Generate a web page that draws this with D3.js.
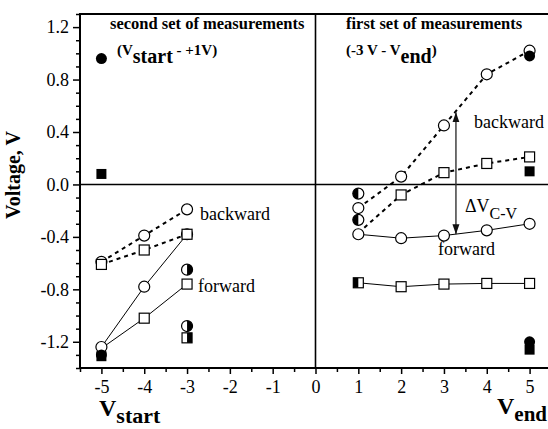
<!DOCTYPE html>
<html>
<head>
<meta charset="utf-8">
<script src="https://cdn.jsdelivr.net/npm/d3@7"></script>
<style>
  body { margin: 0; background: #fff; }
  svg, svg text { font-family: "Liberation Serif", "Times New Roman", serif; }
</style>
</head>
<body>
<div id="chart"></div>
<script>
// Vend series (first set of measurements)
const vEnd = [1, 2, 3, 4, 5];
const endBackCircle = [-0.18, 0.06, 0.45, 0.84, 1.02];
const endBackSquare = [-0.37, -0.08, 0.09, 0.16, 0.21];
const endFwdCircle = [-0.38, -0.41, -0.39, -0.35, -0.30];
const endFwdSquare = [-0.75, -0.78, -0.76, -0.755, -0.755];

// Vstart series (second set of measurements)
const vStart = [-5, -4, -3];
const startBackCircle = [-0.59, -0.39, -0.19];
const startBackSquare = [-0.61, -0.50, -0.38];
const startFwdCircle = [-1.24, -0.78, -0.38];
const startFwdSquare = [-1.25, -1.02, -0.76];

// single points
const filledCircles = [[-5, 0.96], [-5, -1.30], [5, 0.98], [5, -1.20]];
const filledSquares = [[-5, 0.08], [-5, -1.31], [5, 0.10], [5, -1.26]];
const halfCircles = [[-3, -0.65, "right"], [-3, -1.08, "right"], [1, -0.07, "left"], [1, -0.27, "left"]];
const halfSquares = [[-3, -1.17, "right"], [1, -0.75, "left"]];

// delta arrow
const arrowX = 3.28;
const arrowFrom = -0.38;
const arrowTo = 0.55;

const xTicks = [-5, -4, -3, -2, -1, 0, 1, 2, 3, 4, 5];
const yTicks = [-1.2, -0.8, -0.4, 0.0, 0.4, 0.8, 1.2];

const width = 548, height = 429;
const serif = "Liberation Serif, Times New Roman, serif";

const x = d3.scaleLinear().domain([-5.5, 5.5]).range([80, 551]);
const y = d3.scaleLinear().domain([-1.4, 1.3]).range([368, 14]);

const svg = d3.select("#chart").append("svg")
    .attr("width", width)
    .attr("height", height)
    .attr("font-family", serif);

// --- axes ---
const yMinor = d3.range(-14, 14).map(d => d / 10).filter(d => Math.abs(d * 10) % 4 !== 0);
const xMinor = d3.range(-5.5, 5.6, 1);

svg.append("g")
    .attr("transform", `translate(${x(-5.5)},0)`)
    .call(d3.axisLeft(y).tickValues(yMinor).tickSize(4).tickFormat(""))
    .call(g => g.select(".domain").remove())
    .selectAll("line").attr("stroke-width", 1.5);

svg.append("g")
    .attr("transform", `translate(${x(-5.5)},0)`)
    .call(d3.axisLeft(y).tickValues(yTicks).tickSize(7).tickPadding(4).tickFormat(d => d.toFixed(1)))
    .attr("font-family", serif)
    .attr("font-size", 18)
    .call(g => g.select(".domain").remove())
    .call(g => g.selectAll("line").attr("stroke-width", 1.5));

svg.append("g")
    .attr("transform", `translate(0,${y(-1.4)})`)
    .call(d3.axisBottom(x).tickValues(xMinor).tickSize(4).tickFormat(""))
    .call(g => g.select(".domain").remove())
    .selectAll("line").attr("stroke-width", 1.5);

svg.append("g")
    .attr("transform", `translate(0,${y(-1.4)})`)
    .call(d3.axisBottom(x).tickValues(xTicks).tickSize(6).tickPadding(6).tickFormat(d => String(d)))
    .attr("font-family", serif)
    .attr("font-size", 18)
    .call(g => g.select(".domain").remove())
    .call(g => g.selectAll("line").attr("stroke-width", 1.5));

// frame (top, left, bottom) and zero lines
const frame = svg.append("g").attr("stroke", "#000").attr("fill", "none");
frame.append("path")
    .attr("d", `M${x(5.5)},${y(1.3)}H${x(-5.5)}V${y(-1.4)}H${x(5.5)}`)
    .attr("stroke-width", 2);
frame.append("line")
    .attr("x1", x(-5.5)).attr("x2", x(5.5))
    .attr("y1", y(0)).attr("y2", y(0))
    .attr("stroke-width", 1.6);
frame.append("line")
    .attr("x1", x(0)).attr("x2", x(0))
    .attr("y1", y(1.3)).attr("y2", y(-1.4))
    .attr("stroke-width", 1.6);

// --- lines ---
const line = d3.line().x(d => x(d[0])).y(d => y(d[1]));
const zip = (xs, ys) => xs.map((v, i) => [v, ys[i]]);

const dashed = [zip(vEnd, endBackCircle), zip(vEnd, endBackSquare),
                zip(vStart, startBackCircle), zip(vStart, startBackSquare)];
const solid = [zip(vEnd, endFwdCircle), zip(vEnd, endFwdSquare),
               zip(vStart, startFwdCircle), zip(vStart, startFwdSquare)];

svg.append("g").selectAll("path").data(dashed).join("path")
    .attr("d", line)
    .attr("fill", "none")
    .attr("stroke", "#000")
    .attr("stroke-width", 2)
    .attr("stroke-dasharray", "4,4");

svg.append("g").selectAll("path").data(solid).join("path")
    .attr("d", line)
    .attr("fill", "none")
    .attr("stroke", "#000")
    .attr("stroke-width", 1);

// --- open markers ---
const r = 5.5, s = 10;
const openCircles = [].concat(
    zip(vEnd, endBackCircle), zip(vEnd, endFwdCircle),
    zip(vStart, startBackCircle), zip(vStart, startFwdCircle));
// squares hidden under other symbols are skipped
const openSquares = [].concat(
    zip(vEnd, endBackSquare).slice(1), zip(vEnd, endFwdSquare).slice(1),
    zip(vStart, startBackSquare), zip(vStart, startFwdSquare).slice(1));

svg.append("g").selectAll("circle").data(openCircles).join("circle")
    .attr("cx", d => x(d[0])).attr("cy", d => y(d[1])).attr("r", r)
    .attr("fill", "#fff").attr("stroke", "#000").attr("stroke-width", 1.2);

svg.append("g").selectAll("rect").data(openSquares).join("rect")
    .attr("x", d => x(d[0]) - s / 2).attr("y", d => y(d[1]) - s / 2)
    .attr("width", s).attr("height", s)
    .attr("fill", "#fff").attr("stroke", "#000").attr("stroke-width", 1.2);

// --- filled markers ---
svg.append("g").selectAll("circle").data(filledCircles).join("circle")
    .attr("cx", d => x(d[0])).attr("cy", d => y(d[1])).attr("r", r)
    .attr("fill", "#000");

svg.append("g").selectAll("rect").data(filledSquares).join("rect")
    .attr("x", d => x(d[0]) - s / 2).attr("y", d => y(d[1]) - s / 2)
    .attr("width", s).attr("height", s)
    .attr("fill", "#000");

// --- half filled markers ---
const hc = svg.append("g").selectAll("g").data(halfCircles).join("g")
    .attr("transform", d => `translate(${x(d[0])},${y(d[1])})`);
hc.append("circle").attr("r", r)
    .attr("fill", "#fff").attr("stroke", "#000").attr("stroke-width", 1.2);
hc.append("path")
    .attr("d", d => d[2] === "left"
        ? `M0,${-r}A${r},${r} 0 0 0 0,${r}Z`
        : `M0,${-r}A${r},${r} 0 0 1 0,${r}Z`)
    .attr("fill", "#000");

const hs = svg.append("g").selectAll("g").data(halfSquares).join("g")
    .attr("transform", d => `translate(${x(d[0])},${y(d[1])})`);
hs.append("rect").attr("x", -s / 2).attr("y", -s / 2).attr("width", s).attr("height", s)
    .attr("fill", "#fff").attr("stroke", "#000").attr("stroke-width", 1.2);
hs.append("rect")
    .attr("x", d => d[2] === "left" ? -s / 2 : 0).attr("y", -s / 2)
    .attr("width", s / 2).attr("height", s)
    .attr("fill", "#000");

// --- delta arrow ---
const defs = svg.append("defs");
defs.append("marker")
    .attr("id", "arrowHead")
    .attr("viewBox", "0 0 10 10")
    .attr("refX", 10).attr("refY", 5)
    .attr("markerWidth", 10).attr("markerHeight", 10)
    .attr("markerUnits", "userSpaceOnUse")
    .attr("orient", "auto-start-reverse")
    .append("path")
    .attr("d", "M0,1.5L10,5L0,8.5Z")
    .attr("fill", "#111");

svg.append("line")
    .attr("x1", x(arrowX)).attr("x2", x(arrowX))
    .attr("y1", y(arrowFrom)).attr("y2", y(arrowTo))
    .attr("stroke", "#333").attr("stroke-width", 1.4)
    .attr("marker-start", "url(#arrowHead)")
    .attr("marker-end", "url(#arrowHead)");

// --- texts ---
const txt = svg.append("g").attr("fill", "#000");

txt.append("text").attr("x", 110).attr("y", 29)
    .attr("font-weight", "bold").attr("font-size", 16.5)
    .text("second set of measurements");
txt.append("text").attr("x", 346).attr("y", 29)
    .attr("font-weight", "bold").attr("font-size", 16.5)
    .text("first set of measurements");

const t1 = txt.append("text").attr("x", 117).attr("y", 55)
    .attr("font-weight", "bold").attr("font-size", 15);
t1.append("tspan").text("(V");
t1.append("tspan").attr("dy", 8).attr("font-size", 20).text("start");
t1.append("tspan").attr("dy", -8).text(" - +1V)");

const t2 = txt.append("text").attr("x", 346).attr("y", 55)
    .attr("font-weight", "bold").attr("font-size", 15);
t2.append("tspan").text("(-3 V - V");
t2.append("tspan").attr("dy", 8).attr("font-size", 20).text("end");
t2.append("tspan").attr("dy", -8).text(")");

txt.append("text").attr("x", 474).attr("y", 128).attr("font-size", 18).text("backward");
txt.append("text").attr("x", 438).attr("y", 255).attr("font-size", 18).text("forward");
txt.append("text").attr("x", 200).attr("y", 220).attr("font-size", 18).text("backward");
txt.append("text").attr("x", 198).attr("y", 292).attr("font-size", 18).text("forward");

const dv = txt.append("text").attr("x", 465).attr("y", 212).attr("font-size", 18);
dv.append("tspan").text("ΔV");
dv.append("tspan").attr("dy", 7).attr("font-size", 16).text("C-V");

txt.append("text")
    .attr("transform", `translate(20,175) rotate(-90)`)
    .attr("text-anchor", "middle")
    .attr("font-weight", "bold").attr("font-size", 20)
    .text("Voltage, V");

const xs = txt.append("text").attr("x", 99).attr("y", 416)
    .attr("font-weight", "bold").attr("font-size", 24);
xs.append("tspan").text("V");
xs.append("tspan").attr("dy", 7).attr("font-size", 22).text("start");

const xe = txt.append("text").attr("x", 497).attr("y", 414)
    .attr("font-weight", "bold").attr("font-size", 24);
xe.append("tspan").text("V");
xe.append("tspan").attr("dy", 7).attr("font-size", 21).text("end");
</script>
</body>
</html>
